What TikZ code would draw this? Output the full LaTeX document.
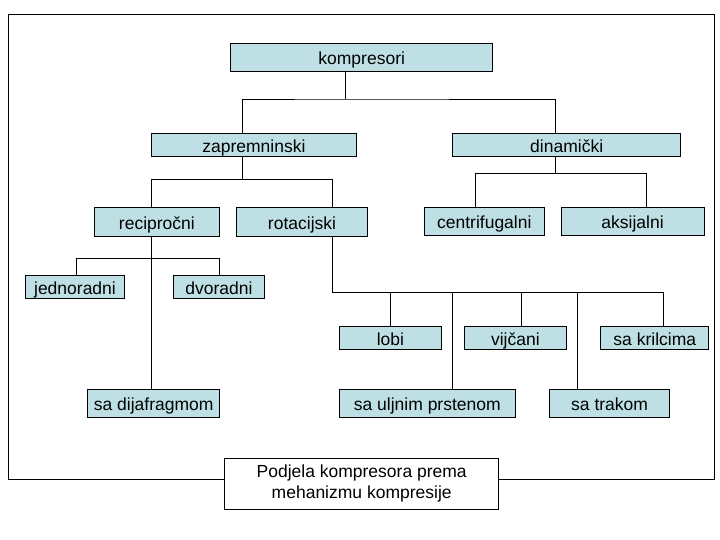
\documentclass[tikz,border=0pt]{standalone}
\usepackage{fontspec}
\setmainfont{Liberation Sans}
\definecolor{boxblue}{RGB}{190,224,228}
\begin{document}
\begin{tikzpicture}[x=1pt,y=-1pt,
  box/.style={draw=black, line width=0.9pt, fill=boxblue, inner sep=0pt, text height=18pt, text depth=3pt, font=\fontsize{17.5}{21}\selectfont},
  wbox/.style={draw=black, line width=0.9pt, fill=white, inner sep=0pt, align=center, font=\fontsize{17.5}{21.5}\selectfont},
  conn/.style={draw=black, line width=0.9pt}]
\useasboundingbox (0,0) rectangle (720,540);
\draw[line width=0.9pt] (8,14.5) rectangle (714.5,479);
% nodes
\node[box, minimum width=262pt, minimum height=28pt] (komp) at (361.7,57.3) {kompresori};
\node[box, minimum width=205pt, minimum height=23pt] (zap) at (253.9,144.8) {zapremninski};
\node[box, minimum width=228pt, minimum height=23pt] (din) at (566.7,144.8) {dinamički};
\node[box, minimum width=125.7pt, minimum height=29pt] (rec) at (156.9,221.8) {recipročni};
\node[box, minimum width=131.5pt, minimum height=29pt] (rot) at (302,221.8) {rotacijski};
\node[box, minimum width=119.4pt, minimum height=28pt] (cen) at (484.3,221.3) {centrifugalni};
\node[box, minimum width=143.2pt, minimum height=28pt] (aks) at (632.6,221.3) {aksijalni};
\node[box, minimum width=99.2pt, minimum height=23.3pt] (jed) at (75,286.7) {jednoradni};
\node[box, minimum width=90.9pt, minimum height=23.3pt] (dvo) at (219,286.7) {dvoradni};
\node[box, minimum width=102.4pt, minimum height=23pt] (lob) at (390.4,337.8) {lobi};
\node[box, minimum width=102.5pt, minimum height=23pt] (vij) at (515.4,337.8) {vijčani};
\node[box, minimum width=108pt, minimum height=23pt] (kri) at (654.8,337.8) {sa krilcima};
\node[box, minimum width=132pt, minimum height=27.7pt] (dij) at (153.7,403.2) {sa dijafragmom};
\node[box, minimum width=176.3pt, minimum height=27.7pt] (ulj) at (427.3,403.2) {sa uljnim prstenom};
\node[box, minimum width=120pt, minimum height=27.7pt] (tra) at (609.6,403.2) {sa trakom};
\node[wbox, minimum width=274pt, minimum height=51pt] (pod) at (361.7,483.5) {Podjela kompresora prema\\mehanizmu kompresije};
% junctions
\coordinate (j1) at (345,99);
\coordinate (j2) at (242,179.3);
\coordinate (j3) at (555,173.3);
\coordinate (j4) at (151.4,258.3);
\coordinate (j5) at (332.7,292.3);
% connectors
\draw[conn] (komp.south -| j1) -- (j1);
\draw[conn] (zap.north -| j2) |- (j1) -| (din.north -| j3);
\draw[conn] (zap.south -| j2) -- (j2);
\draw[conn] (rec.north -| 151.4,0) |- (j2) -| (rot.north -| j5);
\draw[conn] (din.south -| j3) -- (j3);
\draw[conn] (cen.north -| 475.8,0) |- (j3) -| (aks.north -| 646.5,0);
\draw[conn] (rec.south -| j4) -- (dij.north -| j4);
\draw[conn] (jed.north -| 76.6,0) |- (j4) -| (dvo.north -| 219.7,0);
\draw[conn] (rot.south -| j5) -- (j5) -| (kri.north -| 663.6,0);
\draw[conn] (lob.north) |- (j5);
\draw[conn] (ulj.north -| 452.7,0) -- (452.7,292.3);
\draw[conn] (vij.north -| 521,0) -- (521,292.3);
\draw[conn] (tra.north -| 577.8,0) -- (577.8,292.3);
\end{tikzpicture}
\end{document}
